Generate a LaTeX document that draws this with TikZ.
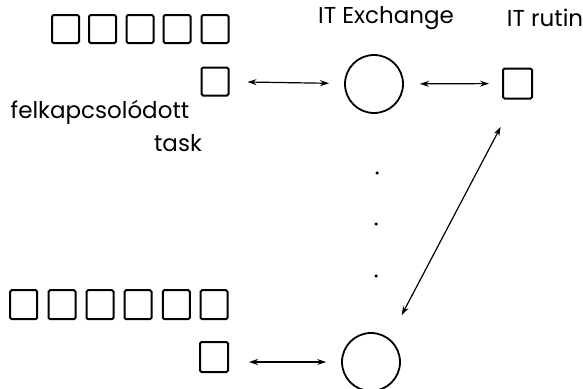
\documentclass[tikz,border=0pt]{standalone}
\usepackage{fontspec}
\setmainfont{Poppins}
\usetikzlibrary{arrows.meta}
\begin{document}
\begin{tikzpicture}[x=1pt,y=-1pt,
  box/.style={draw,line width=2pt,minimum width=27pt,minimum height=28pt,inner sep=0pt,rounded corners=1.5pt},
  ring/.style={draw,circle,line width=1.8pt,minimum size=58pt,inner sep=0pt},
  dotn/.style={circle,fill,inner sep=0pt,minimum size=3.5pt},
  arr/.style={line width=1.2pt,{Stealth[length=9pt,width=6pt]}-{Stealth[length=9pt,width=6pt]}},
  lbl/.style={font=\fontsize{23}{26}\selectfont,inner sep=0pt}]
\clip (0,0) rectangle (583,388);
\useasboundingbox (0,0) rectangle (583,388);
% top row
\foreach \x [count=\i] in {65.5,102.5,140,177,215}
  \node[box] (t\i) at (\x,29) {};
\node[box] (ts) at (215,81.5) {};
\node[ring] (c1) at (374,84) {};
\node[box,minimum width=29pt,minimum height=30pt] (r1) at (517.5,83.5) {};
% bottom row
\foreach \x [count=\i] in {23.7,62,100,138,176.3,214}
  \node[box,minimum height=29pt] (b\i) at (\x,304.7) {};
\node[box,minimum width=28pt,minimum height=30pt] (bs) at (214,357) {};
\node[ring] (c2) at (371,362) {};
% dots
\node[dotn] (d1) at (377,173) {};
\node[dotn] (d2) at (376,224) {};
\node[dotn] (d3) at (376,276) {};
% labels
\node[lbl] (lex) at (386,18) {IT Exchange};
\node[lbl] (lrt) at (545,18) {IT rutin};
\node[lbl] (lfk) at (100,112) {felkapcsolódott};
\node[lbl] (ltk) at (178,143) {task};
% connectors
\draw[arr,shorten <=18pt,shorten >=15pt] (ts) -- (c1);
\draw[arr,shorten <=16pt,shorten >=13pt] (c1) -- (r1);
\draw[arr,shorten <=49pt,shorten >=53pt] ([xshift=6pt]r1.center) -- ([xshift=6pt]c2.center);
\draw[arr,shorten <=20pt,shorten >=15pt] (bs.east |- c2.west) -- (c2.west);
\end{tikzpicture}
\end{document}
